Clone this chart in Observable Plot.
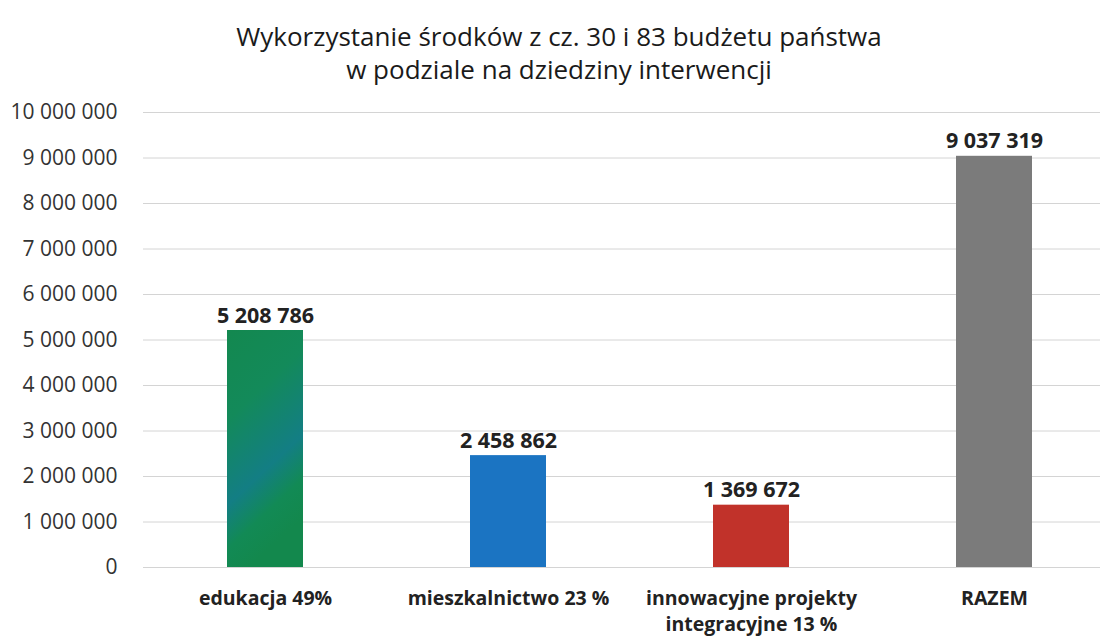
<!DOCTYPE html>
<html>
<head>
<meta charset="utf-8">
<script src="https://cdn.jsdelivr.net/npm/d3@7"></script>
<script src="https://cdn.jsdelivr.net/npm/@observablehq/plot@0.6"></script>
<style>
  html, body { margin: 0; padding: 0; background: #fff; }
  body { width: 1100px; height: 637px; overflow: hidden; font-family: "Open Sans", sans-serif; }
  #title { position: relative; height: 95px; width: 1100px; }
  #title div { position: absolute; left: 0; width: 1118px; text-align: center; font-size: 26px; color: #1a1a1a; line-height: 34px; }
  #chart svg { display: block; }
</style>
</head>
<body>
<div id="title">
  <div style="top:19px">Wykorzystanie środków z cz. 30 i 83 budżetu państwa</div>
  <div style="top:52px">w podziale na dziedziny interwencji</div>
</div>
<div id="chart"></div>
<script>
const categories = ["edukacja 49%", "mieszkalnictwo 23 %", "innowacyjne projekty\nintegracyjne 13 %", "RAZEM"];
const values = [5208786, 2458862, 1369672, 9037319];
const colors = ["url(#greenFill)", "#1b74c2", "#c1322a", "#7b7b7b"];
const yTicks = [0, 1000000, 2000000, 3000000, 4000000, 5000000, 6000000, 7000000, 8000000, 9000000, 10000000];

const loc = d3.formatLocale({decimal: ",", thousands: " ", grouping: [3], currency: ["", ""]});
const fmt = loc.format(",d");

const data = categories.map((c, i) => ({cat: c, value: values[i], color: colors[i]}));

const chart = Plot.plot({
  width: 1100,
  height: 542,
  marginTop: 17,
  marginBottom: 70,
  marginLeft: 143,
  marginRight: 0,
  style: {fontFamily: "Open Sans, sans-serif", color: "#333"},
  x: {domain: categories, range: [143.5, 1115.5], paddingInner: 0.687, paddingOuter: 0.3435, label: null},
  y: {domain: [0, 10000000], label: null},
  color: {type: "identity"},
  marks: [
    Plot.ruleY(yTicks, {stroke: "#d4d4d4", strokeWidth: 1}),
    Plot.axisY({ticks: yTicks, tickSize: 0, tickPadding: 26, tickFormat: fmt, fontSize: 21, fill: "#333", label: null}),
    Plot.barY(data, {x: "cat", y: "value", fill: "color"}),
    Plot.text(data, {x: "cat", y: "value", text: d => fmt(d.value), lineAnchor: "bottom", dy: -8, fontSize: 21.5, fontWeight: "bold", fill: "#222"}),
    Plot.axisX({tickSize: 0, tickPadding: 19, fontSize: 19.5, fontWeight: "bold", fill: "#222", lineHeight: 1.33, label: null})
  ]
});

// gradient definition for the textured green bar
const svg = d3.select(chart);
const defs = svg.insert("defs", ":first-child");
const g = defs.append("linearGradient").attr("id", "greenFill").attr("x1", 0).attr("y1", 0).attr("x2", 0.3).attr("y2", 1);
g.append("stop").attr("offset", "0%").attr("stop-color", "#13884f");
g.append("stop").attr("offset", "35%").attr("stop-color", "#138a5a");
g.append("stop").attr("offset", "68%").attr("stop-color", "#137e84");
g.append("stop").attr("offset", "85%").attr("stop-color", "#128a55");
g.append("stop").attr("offset", "100%").attr("stop-color", "#13884d");

document.getElementById("chart").appendChild(chart);
</script>
</body>
</html>
